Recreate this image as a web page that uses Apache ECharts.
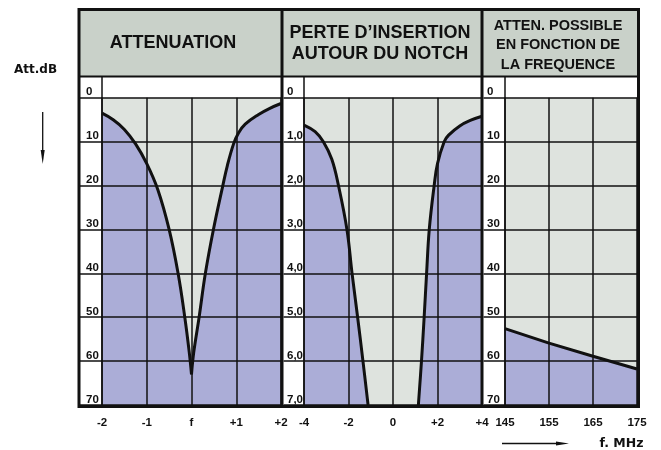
<!DOCTYPE html>
<html>
<head>
<meta charset="utf-8">
<style>
  html, body { margin: 0; padding: 0; background: #ffffff; }
  #chart { width: 661px; height: 450px; }
</style>
<script src="https://cdn.jsdelivr.net/npm/echarts@6/dist/echarts.min.js"></script>
</head>
<body>
<div id="chart"></div>
<script>
// ---- data ----
const dbTicks = [0, 10, 20, 30, 40, 50, 60, 70];
const dbLabels = ["0", "10", "20", "30", "40", "50", "60", "70"];
const notchDbLabels = ["0", "1,0", "2,0", "3,0", "4,0", "5,0", "6,0", "7,0"];

const attenTicks = [-2, -1, 0, 1, 2];
const attenTickLabels = ["-2", "-1", "f", "+1", "+2"];
const notchTicks = [-4, -2, 0, 2, 4];
const notchTickLabels = ["-4", "-2", "0", "+2", "+4"];
const freqTicks = [145, 155, 165, 175];
const freqTickLabels = ["145", "155", "165", "175"];

// attenuation curve, left and right of the notch frequency f
const attenLeftX = [-2, -1.75, -1.5, -1.25, -1, -0.75, -0.5, -0.3, -0.15, -0.05, 0];
const attenLeftDb = [3.5, 5, 7.2, 10.5, 15, 21, 30, 40, 50, 58, 63];
const attenRightX = [0, 0.05, 0.17, 0.31, 0.49, 0.7, 0.8, 0.94, 1.05, 1.2, 1.5, 1.75, 2];
const attenRightDb = [63, 58, 50, 40, 30, 20, 15.5, 10.5, 8, 6, 3.8, 2.4, 1.3];

// insertion loss around the notch
const notchLeftX = [-4, -3.5, -3.13, -2.75, -2.45, -2.07, -1.84, -1.59, -1.35, -1.12];
const notchLeftDb = [6.2, 7.7, 10, 14, 20, 30, 40, 50, 60, 70];
const notchRightX = [1.14, 1.28, 1.4, 1.51, 1.63, 1.85, 2, 2.3, 2.5, 3, 3.5, 4];
const notchRightDb = [70, 60, 50, 40, 30, 20, 15, 10, 8.5, 6.4, 5.1, 4.2];

// possible attenuation vs frequency (MHz)
const freqX = [145, 155, 165, 175];
const freqDb = [52.6, 55.9, 58.9, 61.8];

// ---- styling ----
const HEADER_BG = "#c9d1c9";
const PLOT_BG = "#dee3de";
const FILL = "#abadd7";
const INK = "#111111";

const zip = (xs, ys) => xs.map((x, i) => [x, ys[i]]);

const FRAME_TOP = 9.5, FRAME_BOTTOM = 406.5, FRAME_LEFT = 79, FRAME_RIGHT = 638.5;
const HEADER_BOTTOM = 76;
const PLOT_TOP = 97.8, PLOT_H = 307.2;

const panels = [
  { left: 102, width: 179, colLeft: FRAME_LEFT, labelMargin: 16, min: -2, max: 2, interval: 1,
    ticks: attenTicks, tickLabels: attenTickLabels, yLabels: dbLabels },
  { left: 304, width: 178, colLeft: 283.5, labelMargin: 17, min: -4, max: 4, interval: 2,
    ticks: notchTicks, tickLabels: notchTickLabels, yLabels: notchDbLabels },
  { left: 505, width: 132, colLeft: 483.5, labelMargin: 18, min: 145, max: 175, interval: 10,
    ticks: freqTicks, tickLabels: freqTickLabels, yLabels: dbLabels },
];

// grids 0-2: the plots; grids 3-5: the white label columns (row rules only)
const grid = panels.map((p) => ({
  left: p.left, top: PLOT_TOP, width: p.width, height: PLOT_H,
  show: true, backgroundColor: PLOT_BG, borderWidth: 0,
})).concat(panels.map((p) => ({
  left: p.colLeft, top: PLOT_TOP, width: p.left - p.colLeft, height: PLOT_H,
  show: false,
})));

// axes sit above the filled areas so the black grid shows through, as in the original
const xAxis = panels.map((p, i) => ({
  type: "value", gridIndex: i, min: p.min, max: p.max, interval: p.interval, z: 6,
  axisLine: { show: false, onZero: false },
  axisTick: { show: false },
  splitLine: { show: true, lineStyle: { color: INK, width: 1.5 } },
  axisLabel: {
    color: INK, fontSize: 11.5, fontWeight: "bold",
    fontFamily: "'Liberation Sans Narrow', 'Liberation Sans', sans-serif",
    margin: 12,
    formatter: (v) => { const k = p.ticks.indexOf(v); return k < 0 ? "" : p.tickLabels[k]; },
  },
})).concat(panels.map((p, i) => ({
  type: "value", gridIndex: 3 + i, min: 0, max: 1, show: false,
})));

const yAxis = panels.map((p, i) => ({
  type: "value", gridIndex: i, inverse: true, min: 0, max: 70, interval: 10, z: 6,
  position: "left",
  axisLine: { show: true, onZero: false, lineStyle: { color: INK, width: 1.5 } },
  axisTick: { show: false },
  splitLine: { show: true, lineStyle: { color: INK, width: 1.5 } },
  axisLabel: {
    color: INK, fontSize: 11.5, fontWeight: "bold",
    fontFamily: "'Liberation Sans', sans-serif",
    align: "left", verticalAlign: "bottom", margin: p.labelMargin,
    lineHeight: 11,
    formatter: (v) => { const k = dbTicks.indexOf(v); return k < 0 ? "" : p.yLabels[k]; },
  },
})).concat(panels.map((p, i) => ({
  type: "value", gridIndex: 3 + i, inverse: true, min: 0, max: 70, interval: 10, z: 5,
  axisLine: { show: false, onZero: false },
  axisTick: { show: false },
  axisLabel: { show: false },
  splitLine: { show: true, lineStyle: { color: INK, width: 1.5 } },
})));

const curve = (idx, data) => ({
  type: "line", xAxisIndex: idx, yAxisIndex: idx, data,
  smooth: 0.4, symbol: "none", silent: true,
  lineStyle: { color: INK, width: 3 },
  areaStyle: { color: FILL, opacity: 1, origin: "end" },
  z: 3,
});

const series = [
  curve(0, zip(attenLeftX, attenLeftDb)),
  curve(0, zip(attenRightX, attenRightDb)),
  curve(1, zip(notchLeftX, notchLeftDb)),
  curve(1, zip(notchRightX, notchRightDb)),
  Object.assign(curve(2, zip(freqX, freqDb)), { smooth: false }),
];

const line = (x1, y1, x2, y2, w) => ({
  type: "line", z: 100, silent: true,
  shape: { x1, y1, x2, y2 }, style: { stroke: INK, lineWidth: w },
});
const text = (x, y, str, font, extra) => ({
  type: "text", z: 100, silent: true,
  style: Object.assign({
    x, y, text: str, font, fill: INK,
    align: "center", verticalAlign: "middle",
    textAlign: "center", textVerticalAlign: "middle",
  }, extra || {}),
});

const graphic = [
  // header bands
  { type: "rect", z: 1, silent: true, shape: { x: FRAME_LEFT, y: FRAME_TOP, width: 282 - FRAME_LEFT, height: HEADER_BOTTOM - FRAME_TOP }, style: { fill: HEADER_BG } },
  { type: "rect", z: 1, silent: true, shape: { x: 282, y: FRAME_TOP, width: 200, height: HEADER_BOTTOM - FRAME_TOP }, style: { fill: HEADER_BG } },
  { type: "rect", z: 1, silent: true, shape: { x: 482, y: FRAME_TOP, width: FRAME_RIGHT - 482, height: HEADER_BOTTOM - FRAME_TOP }, style: { fill: HEADER_BG } },
  text(173, 43, "ATTENUATION", "bold 18px 'Liberation Sans', Arial, sans-serif"),
  text(380, 43.5, "PERTE D\u2019INSERTION\nAUTOUR DU NOTCH", "bold 18px 'Liberation Sans', Arial, sans-serif", { lineHeight: 21 }),
  text(558, 45, "ATTEN. POSSIBLE\nEN FONCTION DE\nLA FREQUENCE", "bold 14.5px 'Liberation Sans', Arial, sans-serif", { lineHeight: 19.5 }),
  // header bottom rule and label column rules
  line(FRAME_LEFT, HEADER_BOTTOM + 0.5, FRAME_RIGHT, HEADER_BOTTOM + 0.5, 2),
  line(102, HEADER_BOTTOM, 102, PLOT_TOP, 1.5),
  line(304, HEADER_BOTTOM, 304, PLOT_TOP, 1.5),
  line(505, HEADER_BOTTOM, 505, PLOT_TOP, 1.5),
  // panel separators and outer frame
  line(282, FRAME_TOP, 282, FRAME_BOTTOM, 3),
  line(482, FRAME_TOP, 482, FRAME_BOTTOM, 3),
  { type: "rect", z: 101, silent: true,
    shape: { x: FRAME_LEFT, y: FRAME_TOP, width: FRAME_RIGHT - FRAME_LEFT, height: FRAME_BOTTOM - FRAME_TOP },
    style: { fill: null, stroke: INK, lineWidth: 3 } },
  // axis titles
  text(35.5, 69.5, "Att.dB", "bold 12px 'DejaVu Sans', sans-serif"),
  line(42.7, 112, 42.7, 154, 1.3),
  { type: "polygon", z: 100, silent: true, shape: { points: [[40.7, 150], [44.7, 150], [42.7, 164]] }, style: { fill: INK } },
  line(502, 443.5, 558, 443.5, 1.3),
  { type: "polygon", z: 100, silent: true, shape: { points: [[556, 441.5], [556, 445.5], [569, 443.5]] }, style: { fill: INK } },
  text(621.5, 443.5, "f. MHz", "bold 12.5px 'DejaVu Sans', sans-serif"),
];

const chart = echarts.init(document.getElementById("chart"), null, { renderer: "canvas" });
chart.setOption({
  animation: false,
  backgroundColor: "#ffffff",
  grid, xAxis, yAxis, series, graphic,
});
</script>
</body>
</html>
